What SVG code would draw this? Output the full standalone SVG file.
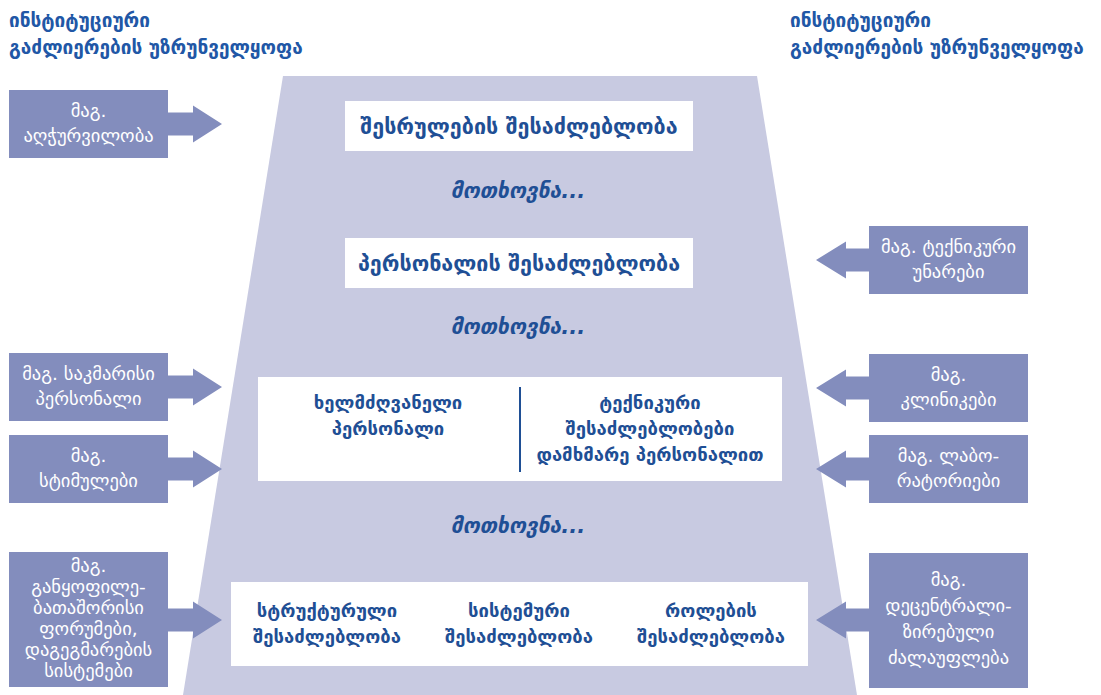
<svg xmlns="http://www.w3.org/2000/svg" width="1101" height="695" viewBox="0 0 1101 695">
<defs>
<style>
.hdr{font-family:"DejaVu Sans",sans-serif;font-size:19px;font-weight:bold;fill:#2157A6;}
.side{fill:#838DBD;}
.st{font-family:"DejaVu Sans",sans-serif;font-size:18.5px;fill:#FFFFFF;text-anchor:middle;}
.wb{fill:#FFFFFF;}
.mt{font-family:"DejaVu Sans",sans-serif;font-size:21.5px;font-weight:bold;fill:#1F4F95;text-anchor:middle;}
.ct{font-family:"DejaVu Sans",sans-serif;font-size:18.5px;font-weight:bold;fill:#1F4F95;text-anchor:middle;}
.req{font-family:"DejaVu Sans",sans-serif;font-size:21px;font-weight:bold;font-style:italic;fill:#1F4F95;text-anchor:middle;}
</style>
</defs>
<rect width="1101" height="695" fill="#FFFFFF"/>
<g id="funnel">
<polygon points="283,76 757,76 857,695 183,695" fill="#C8CAE1"/>
</g>
<g id="headers">
<text class="hdr" x="9" y="27">ინსტიტუციური</text>
<text class="hdr" x="9" y="54">გაძლიერების უზრუნველყოფა</text>
<text class="hdr" x="790" y="27">ინსტიტუციური</text>
<text class="hdr" x="790" y="54">გაძლიერების უზრუნველყოფა</text>
</g>
<g id="connectors">
<polygon class="side" points="168,112.5 193,112.5 193,105.5 222,124 193,142.5 193,135.5 168,135.5"/>
<polygon class="side" points="168,375.5 193,375.5 193,368.5 222,387 193,405.5 193,398.5 168,398.5"/>
<polygon class="side" points="168,457.5 193,457.5 193,450.5 222,469 193,487.5 193,480.5 168,480.5"/>
<polygon class="side" points="168,608.5 193,608.5 193,601.5 222,620 193,638.5 193,631.5 168,631.5"/>
<polygon class="side" points="869,248.5 846,248.5 846,241.5 816,260 846,278.5 846,271.5 869,271.5"/>
<polygon class="side" points="869,376.5 846,376.5 846,369.5 816,388 846,406.5 846,399.5 869,399.5"/>
<polygon class="side" points="869,457.5 846,457.5 846,450.5 816,469 846,487.5 846,480.5 869,480.5"/>
<polygon class="side" points="869,608.5 846,608.5 846,601.5 816,620 846,638.5 846,631.5 869,631.5"/>
</g>
<g id="left1">
<rect class="side" x="9" y="90" width="159" height="68"/>
<text class="st" x="88.5" y="117">მაგ.</text>
<text class="st" x="88.5" y="142">აღჭურვილობა</text>
</g>
<g id="left2">
<rect class="side" x="9" y="353" width="159" height="68"/>
<text class="st" x="88.5" y="380">მაგ. საკმარისი</text>
<text class="st" x="88.5" y="405">პერსონალი</text>
</g>
<g id="left3">
<rect class="side" x="9" y="435" width="159" height="68"/>
<text class="st" x="88.5" y="462">მაგ.</text>
<text class="st" x="88.5" y="487">სტიმულები</text>
</g>
<g id="left4">
<rect class="side" x="9" y="552" width="159" height="135"/>
<text class="st" x="88.5" y="572">მაგ.</text>
<text class="st" x="88.5" y="593">განყოფილე-</text>
<text class="st" x="88.5" y="614">ბათაშორისი</text>
<text class="st" x="88.5" y="635">ფორუმები,</text>
<text class="st" x="88.5" y="656">დაგეგმარების</text>
<text class="st" x="88.5" y="677">სისტემები</text>
</g>
<g id="right1">
<rect class="side" x="869" y="226" width="159" height="68"/>
<text class="st" x="948.5" y="253">მაგ. ტექნიკური</text>
<text class="st" x="948.5" y="278">უნარები</text>
</g>
<g id="right2">
<rect class="side" x="869" y="354" width="159" height="68"/>
<text class="st" x="948.5" y="381">მაგ.</text>
<text class="st" x="948.5" y="406">კლინიკები</text>
</g>
<g id="right3">
<rect class="side" x="869" y="435" width="159" height="68"/>
<text class="st" x="948.5" y="462">მაგ. ლაბო-</text>
<text class="st" x="948.5" y="487">რატორიები</text>
</g>
<g id="right4">
<rect class="side" x="869" y="553" width="159" height="135"/>
<text class="st" x="948.5" y="586">მაგ.</text>
<text class="st" x="948.5" y="612">დეცენტრალი-</text>
<text class="st" x="948.5" y="638">ზირებული</text>
<text class="st" x="948.5" y="664">ძალაუფლება</text>
</g>
<g id="boxA">
<rect class="wb" x="345" y="101" width="348" height="50"/>
<text class="mt" x="519" y="133.5">შესრულების შესაძლებლობა</text>
</g>
<text class="req" x="518" y="198">მოთხოვნა...</text>
<g id="boxB">
<rect class="wb" x="345" y="238" width="348" height="50"/>
<text class="mt" x="519" y="270.5">პერსონალის შესაძლებლობა</text>
</g>
<text class="req" x="518" y="334">მოთხოვნა...</text>
<g id="boxC">
<rect class="wb" x="258" y="377" width="524" height="104"/>
<line x1="520" y1="387" x2="520" y2="472" stroke="#1F4F95" stroke-width="2"/>
<text class="ct" x="388" y="409">ხელმძღვანელი</text>
<text class="ct" x="388" y="435">პერსონალი</text>
<text class="ct" x="650" y="409">ტექნიკური</text>
<text class="ct" x="650" y="435">შესაძლებლობები</text>
<text class="ct" x="650" y="461">დამხმარე პერსონალით</text>
</g>
<text class="req" x="518" y="533">მოთხოვნა...</text>
<g id="boxD">
<rect class="wb" x="231" y="582" width="577" height="84"/>
<text class="ct" x="327" y="617">სტრუქტურული</text>
<text class="ct" x="327" y="643">შესაძლებლობა</text>
<text class="ct" x="519" y="617">სისტემური</text>
<text class="ct" x="519" y="643">შესაძლებლობა</text>
<text class="ct" x="711" y="617">როლების</text>
<text class="ct" x="711" y="643">შესაძლებლობა</text>
</g>
</svg>
